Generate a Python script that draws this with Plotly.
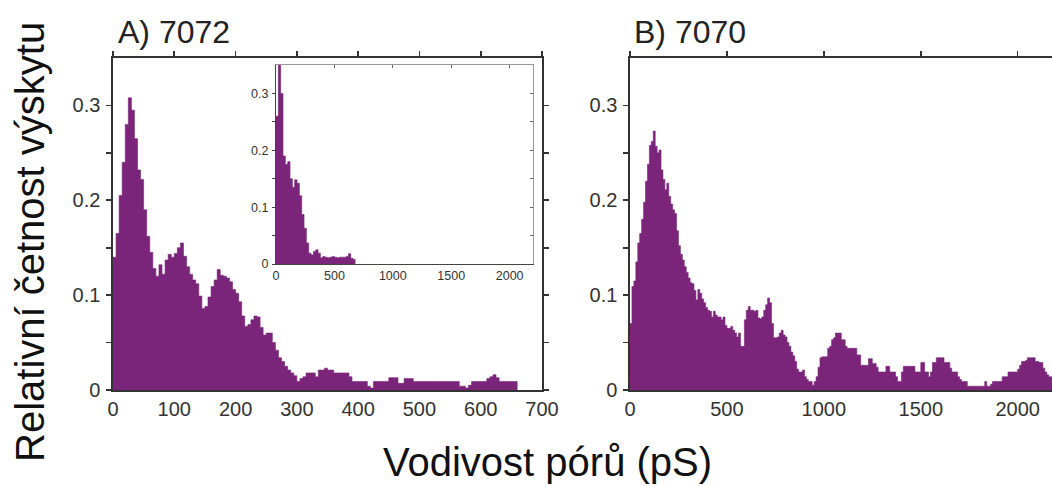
import plotly.graph_objects as go

W, H = 1052, 486
PURPLE = "#7a247a"
AX = "#333333"
FONT = "Liberation Sans, Arial, sans-serif"

# ---------------- data ----------------
# Panel A (7072): relative frequency, 5 pS bins starting at 0
a_bin_width = 5
a_values = [
    0.140, 0.165, 0.205, 0.240, 0.280, 0.308, 0.295, 0.265, 0.232, 0.222,
    0.190, 0.162, 0.145, 0.128, 0.120, 0.132, 0.122, 0.137, 0.143, 0.140,
    0.144, 0.150, 0.155, 0.141, 0.130, 0.122, 0.116, 0.112, 0.099, 0.086,
    0.088, 0.098, 0.109, 0.116, 0.127, 0.121, 0.120, 0.118, 0.114, 0.106,
    0.102, 0.093, 0.078, 0.067, 0.069, 0.074, 0.078, 0.077, 0.066, 0.058,
    0.060, 0.060, 0.050, 0.042, 0.034, 0.030, 0.025, 0.021, 0.018, 0.015,
    0.009, 0.012, 0.014, 0.018, 0.018, 0.018, 0.014, 0.021, 0.021, 0.023,
    0.021, 0.021, 0.018, 0.018, 0.018, 0.018, 0.018, 0.014, 0.009, 0.009,
    0.009, 0.009, 0.009, 0.004, 0.002, 0.009, 0.009, 0.009, 0.009, 0.009,
    0.013, 0.013, 0.013, 0.007, 0.007, 0.012, 0.012, 0.012, 0.009, 0.009,
    0.009, 0.009, 0.009, 0.009, 0.009, 0.009, 0.009, 0.009, 0.009, 0.009,
    0.009, 0.009, 0.009, 0.004, 0.004, 0.002, 0.005, 0.009, 0.009, 0.009,
    0.009, 0.009, 0.012, 0.014, 0.016, 0.013, 0.009, 0.009, 0.009, 0.009,
    0.009, 0.009,
]

# Inset of panel A: 20 pS bins starting at 0
inset_bin_width = 20
inset_values = [
    0.260, 0.350, 0.300, 0.190, 0.175, 0.180, 0.150, 0.135, 0.148, 0.142,
    0.120, 0.087, 0.063, 0.037, 0.019, 0.016, 0.022, 0.025, 0.019, 0.011,
    0.013, 0.012, 0.011, 0.012, 0.013, 0.012, 0.011, 0.012, 0.012, 0.012,
    0.013, 0.018, 0.010, 0.008,
]

# Panel B (7070): 10 pS bins starting at 0
b_bin_width = 10
b_values = [
    0.070, 0.109, 0.115, 0.135, 0.155, 0.165, 0.180, 0.198, 0.220, 0.238,
    0.258, 0.262, 0.273, 0.257, 0.250, 0.253, 0.232, 0.222, 0.211, 0.218,
    0.204, 0.196, 0.190, 0.186, 0.168, 0.152, 0.143, 0.137, 0.130, 0.124,
    0.118, 0.113, 0.112, 0.105, 0.095, 0.106, 0.102, 0.096, 0.092, 0.087,
    0.084, 0.083, 0.077, 0.083, 0.079, 0.077, 0.077, 0.074, 0.077, 0.068,
    0.065, 0.065, 0.067, 0.063, 0.060, 0.056, 0.060, 0.046, 0.046, 0.074,
    0.084, 0.088, 0.084, 0.084, 0.083, 0.084, 0.076, 0.075, 0.077, 0.084,
    0.090, 0.097, 0.092, 0.070, 0.055, 0.055, 0.056, 0.060, 0.063, 0.058,
    0.056, 0.050, 0.046, 0.040, 0.036, 0.030, 0.022, 0.019, 0.019, 0.021,
    0.014, 0.011, 0.009, 0.009, 0.005, 0.009, 0.014, 0.024, 0.034, 0.035,
    0.035, 0.035, 0.044, 0.046, 0.053, 0.055, 0.060, 0.060, 0.060, 0.053,
    0.053, 0.046, 0.044, 0.044, 0.044, 0.044, 0.044, 0.037, 0.037, 0.026,
    0.026, 0.026, 0.026, 0.033, 0.033, 0.028, 0.028, 0.024, 0.019, 0.019,
    0.019, 0.019, 0.025, 0.025, 0.019, 0.019, 0.019, 0.014, 0.009, 0.009,
    0.019, 0.025, 0.025, 0.025, 0.025, 0.025, 0.025, 0.019, 0.019, 0.019,
    0.029, 0.029, 0.019, 0.019, 0.014, 0.019, 0.029, 0.029, 0.034, 0.034,
    0.034, 0.034, 0.029, 0.029, 0.029, 0.023, 0.019, 0.019, 0.019, 0.014,
    0.011, 0.009, 0.009, 0.009, 0.004, 0.004, 0.004, 0.004, 0.004, 0.004,
    0.004, 0.004, 0.004, 0.009, 0.004, 0.004, 0.006, 0.009, 0.009, 0.009,
    0.009, 0.009, 0.014, 0.014, 0.014, 0.019, 0.019, 0.019, 0.019, 0.019,
    0.022, 0.026, 0.030, 0.030, 0.031, 0.034, 0.034, 0.034, 0.034, 0.030,
    0.030, 0.029, 0.029, 0.023, 0.019, 0.016, 0.014, 0.014,
]

a_xticks = [0, 100, 200, 300, 400, 500, 600, 700]
b_xticks = [0, 500, 1000, 1500, 2000]
inset_xticks = [0, 500, 1000, 1500, 2000]
y_tickvals = [0, 0.05, 0.1, 0.15, 0.2, 0.25, 0.3]
y_ticktext = ["0", "", "0.1", "", "0.2", "", "0.3"]

title_a = "A) 7072"
title_b = "B) 7070"
x_title = "Vodivost pórů (pS)"
y_title = "Relativní četnost výskytu"


def step_xy(width, values):
    edges = [i * width for i in range(len(values) + 1)]
    return edges, list(values) + [values[-1]]


def hist_trace(width, values, xa, ya):
    xs, ys = step_xy(width, values)
    return go.Scatter(
        x=xs, y=ys, mode="lines", line=dict(shape="hv", color=PURPLE, width=0.6),
        fill="tozeroy", fillcolor=PURPLE, xaxis=xa, yaxis=ya,
        showlegend=False, hoverinfo="skip",
    )


def dummy(xa, ya):
    return go.Scatter(x=[None], y=[None], xaxis=xa, yaxis=ya, mode="markers",
                      showlegend=False, hoverinfo="skip")


def px_x(p):
    return p / W


def px_y(p):
    return (H - p) / H


fig = go.Figure()
fig.add_trace(hist_trace(a_bin_width, a_values, "x", "y"))
fig.add_trace(dummy("x2", "y"))
fig.add_trace(hist_trace(b_bin_width, b_values, "x3", "y3"))
fig.add_trace(dummy("x4", "y3"))
fig.add_trace(hist_trace(inset_bin_width, inset_values, "x5", "y5"))
fig.add_trace(dummy("x6", "y5"))
fig.add_trace(dummy("x5", "y6"))

tickfont = dict(family=FONT, size=20, color=AX)
small_font = dict(family=FONT, size=12.5, color="#333")
base = dict(showgrid=False, zeroline=False, showline=True, linecolor=AX,
            linewidth=1.6, tickcolor=AX, tickwidth=1.6)

main_y_dom = [px_y(390), px_y(58)]

layout_axes = dict(
    xaxis=dict(**base, domain=[px_x(113), px_x(542)], range=[0, 700], anchor="y",
               tickvals=a_xticks, ticks="", tickfont=tickfont, ticklabelstandoff=0),
    xaxis2=dict(**base, overlaying="x", anchor="y", side="top", range=[0, 700],
                tickvals=a_xticks, ticks="outside", ticklen=5, showticklabels=False),
    yaxis=dict(**base, domain=main_y_dom, range=[0, 0.35], anchor="x",
               tickvals=y_tickvals, ticktext=y_ticktext, ticks="outside", ticklen=5,
               mirror="ticks", tickfont=tickfont, ticklabelstandoff=2),
    xaxis3=dict(**base, domain=[px_x(630), 1.0], range=[0, 2177], anchor="y3",
                tickvals=b_xticks, ticks="", tickfont=tickfont, ticklabelstandoff=0),
    xaxis4=dict(**base, overlaying="x3", anchor="y3", side="top", range=[0, 2177],
                tickvals=b_xticks, ticks="outside", ticklen=5, showticklabels=False),
    yaxis3=dict(**base, domain=main_y_dom, range=[0, 0.35], anchor="x3",
                tickvals=y_tickvals, ticktext=y_ticktext, ticks="outside", ticklen=5,
                tickfont=tickfont, ticklabelstandoff=2),
    xaxis5=dict(showgrid=False, zeroline=False, showline=True, linecolor="#444",
                linewidth=1, domain=[px_x(276), px_x(533)], range=[0, 2200],
                anchor="y5", tickvals=inset_xticks, ticks="", tickfont=small_font,
                ticklabelstandoff=0),
    xaxis6=dict(showgrid=False, zeroline=False, showline=True, linecolor="#999",
                linewidth=1, overlaying="x5", anchor="y5", side="top",
                range=[0, 2200], tickvals=inset_xticks, ticks="inside", ticklen=3,
                tickcolor="#666", tickwidth=1, showticklabels=False),
    yaxis5=dict(showgrid=False, zeroline=False, showline=True, linecolor="#444",
                linewidth=1, domain=[px_y(264), px_y(65)], range=[0, 0.35],
                anchor="x5", tickvals=y_tickvals, ticktext=y_ticktext,
                ticks="outside", ticklen=3, tickcolor="#444", tickwidth=1,
                tickfont=small_font, ticklabelstandoff=1),
    yaxis6=dict(showgrid=False, zeroline=False, showline=True, linecolor="#999",
                linewidth=1, overlaying="y5", anchor="x5", side="right",
                range=[0, 0.35], tickvals=y_tickvals, ticks="inside", ticklen=3,
                tickcolor="#666", tickwidth=1, showticklabels=False),
)

annotations = [
    dict(text=title_a, x=px_x(116), y=px_y(32), xref="paper", yref="paper",
         xanchor="left", yanchor="middle", showarrow=False,
         font=dict(family=FONT, size=32, color="#222")),
    dict(text=title_b, x=px_x(632), y=px_y(32), xref="paper", yref="paper",
         xanchor="left", yanchor="middle", showarrow=False,
         font=dict(family=FONT, size=32, color="#222")),
    dict(text=x_title, x=px_x(547), y=px_y(462), xref="paper", yref="paper",
         xanchor="center", yanchor="middle", showarrow=False,
         font=dict(family=FONT, size=40, color="#111")),
    dict(text=y_title, x=px_x(30), y=px_y(242), xref="paper", yref="paper",
         xanchor="center", yanchor="middle", showarrow=False, textangle=-90,
         font=dict(family=FONT, size=40, color="#111")),
]

fig.update_layout(
    width=W, height=H, margin=dict(l=0, r=0, t=0, b=0, autoexpand=False),
    paper_bgcolor="white", plot_bgcolor="rgba(0,0,0,0)",
    showlegend=False, annotations=annotations, hovermode=False, **layout_axes,
)

fig.write_html(
    "out.html",
    config={"displayModeBar": False, "staticPlot": True},
    post_script="document.body.style.margin='0';document.body.style.overflow='hidden';",
)
